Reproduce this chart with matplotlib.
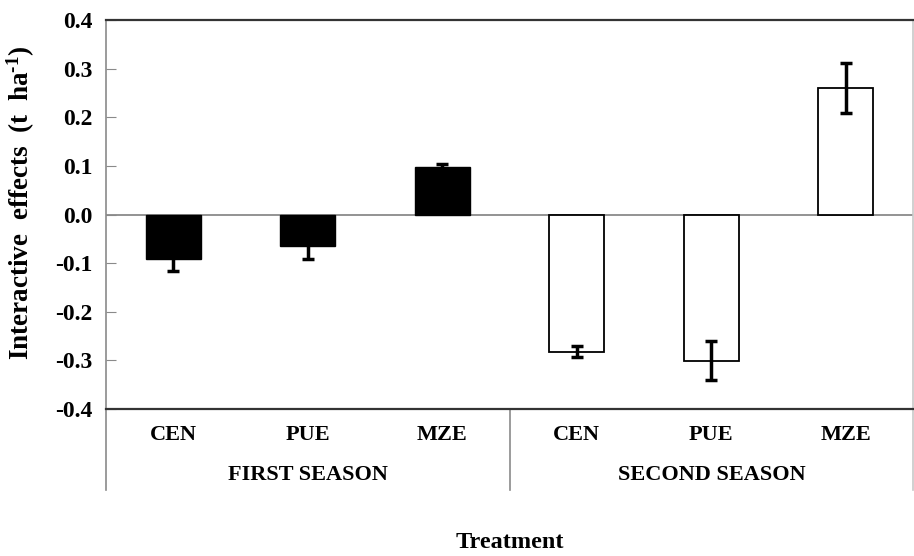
import numpy as np
import matplotlib
matplotlib.use('Agg')
import matplotlib.pyplot as plt

plt.rcParams['font.family'] = 'Liberation Serif'
plt.rcParams['font.weight'] = 'bold'
plt.rcParams['mathtext.fontset'] = 'custom'
plt.rcParams['mathtext.rm'] = 'Liberation Serif:bold'
plt.rcParams['mathtext.bf'] = 'Liberation Serif:bold'
plt.rcParams['mathtext.default'] = 'bf'

# data
treatments = ['CEN', 'PUE', 'MZE']
seasons = ['FIRST SEASON', 'SECOND SEASON']
first_vals = [-0.091, -0.065, 0.097]
first_err = [0.026, 0.026, 0.007]
second_vals = [-0.282, -0.301, 0.260]
second_err = [0.012, 0.040, 0.052]
yticks = [-0.4, -0.3, -0.2, -0.1, 0.0, 0.1, 0.2, 0.3, 0.4]

fig = plt.figure(figsize=(9.14, 5.56), dpi=100)
ax = fig.add_axes([0.116, 0.2644, 0.883, 0.6996])

x1 = np.arange(3)
x2 = np.arange(3) + 3
ekw = dict(elinewidth=2.5, capsize=4.5, capthick=2.5, ecolor='black')
ax.bar(x1, first_vals, width=0.41, color='black', edgecolor='black',
       yerr=first_err, error_kw=ekw, zorder=3)
ax.bar(x2, second_vals, width=0.41, color='white', edgecolor='black',
       linewidth=1.3, yerr=second_err, error_kw=ekw, zorder=3)

ax.axhline(0, color='#8a8a8a', lw=1.3, zorder=2)
ax.set_xlim(-0.5, 5.5)
ax.set_ylim(-0.4, 0.4)
ax.set_yticks(yticks)
ax.set_yticklabels([f'{v:.1f}' for v in yticks])
ax.tick_params(axis='y', direction='in', length=7, color='#8a8a8a',
               labelsize=17, pad=10)
ax.set_xticks([])

for s in ['left', 'right']:
    ax.spines[s].set_color('#8a8a8a')
    ax.spines[s].set_linewidth(1.2)
ax.spines['right'].set_color('#c8c8c8')
for s in ['top', 'bottom']:
    ax.spines[s].set_color('#333333')
    ax.spines[s].set_linewidth(1.6)

ax.set_ylabel('Interactive  effects  (t  ha$^{\\text{-1}}$)', fontsize=19.5,
              fontweight='bold')
ax.yaxis.set_label_coords(-0.086, 0.53)

# category axis labels
trans = ax.get_xaxis_transform()
for i, name in enumerate(treatments * 2):
    ax.text(i, -0.067, name, transform=trans, ha='center', va='center',
            fontsize=16, fontweight='bold')
for j, name in enumerate(seasons):
    ax.text(1 + 3 * j, -0.17, name, transform=trans, ha='center', va='center',
            fontsize=16, fontweight='bold')
for xs, c in [(-0.5, '#8a8a8a'), (2.5, '#8a8a8a'), (5.5, '#c8c8c8')]:
    ax.plot([xs, xs], [0, -0.208], transform=trans, color=c, lw=1.2,
            clip_on=False)

ax.text(0.5, -0.344, 'Treatment', transform=ax.transAxes, ha='center',
        va='center', fontsize=17.5, fontweight='bold')

plt.savefig('out.png', dpi=100)
